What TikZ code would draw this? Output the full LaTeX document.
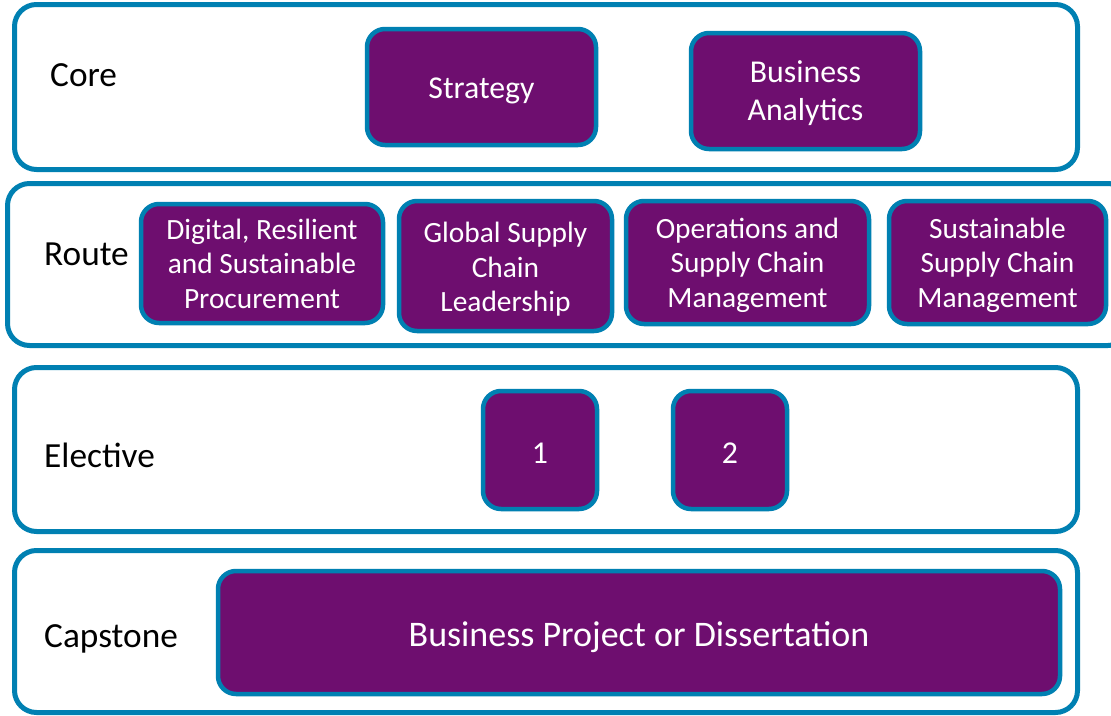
\documentclass[tikz,border=0pt]{standalone}
\usepackage{fontspec}
\setmainfont{Carlito}
\definecolor{bordblue}{RGB}{0,128,178}
\definecolor{modpurple}{RGB}{110,14,111}
\begin{document}
\begin{tikzpicture}[x=1pt,y=-1pt,
  band/.style={draw=bordblue,line width=5pt,rounded corners=22pt,fill=white},
  modbox/.style={draw=bordblue,line width=4.5pt,rounded corners=18pt,fill=modpurple,inner sep=0pt},
  txt/.style={text=white,align=center,inner sep=0pt},
  corefont/.style={font=\fontsize{31.8}{38}\selectfont},
  routefont/.style={font=\fontsize{29.4}{34.5}\selectfont},
  capfont/.style={font=\fontsize{36}{42}\selectfont},
  lbl/.style={anchor=west,inner sep=0pt,font=\fontsize{35.3}{42}\selectfont,text=black}]
\useasboundingbox (0,0) rectangle (1111,715);
% bands
\draw[band] (14.5,4.5) rectangle (1077.5,169.5);
\draw[band] (7.5,183.5) rectangle (1130,345.5);
\draw[band] (14.5,367.5) rectangle (1077.5,531.5);
\draw[band] (14.5,550.5) rectangle (1077.5,712.5);
% labels
\node[lbl] (lcore) at (50,75) {Core};
\node[lbl] (lroute) at (44,254) {Route};
\node[lbl] (lelective) at (44,455) {Elective};
\node[lbl] (lcapstone) at (44,639) {Capstone};
% core
\node[modbox,minimum width=229pt,minimum height=116pt] (strategy) at (481.5,87) {};
\node[txt,corefont] (strategyt) at ([yshift=-4pt]strategy.center) {Strategy};
\node[modbox,minimum width=229pt,minimum height=116pt] (ba) at (805.5,91) {};
\node[txt,corefont] (bat) at ([yshift=-2pt]ba.center) {Business\\Analytics};
% route
\node[modbox,minimum width=242pt,minimum height=119pt] (digital) at (262,263.5) {};
\node[txt,routefont] (digitalt) at (digital.center) {Digital, Resilient\\and Sustainable\\Procurement};
\node[modbox,minimum width=213pt,minimum height=130pt] (global) at (505.5,266) {};
\node[txt,routefont] (globalt) at ([yshift=-3.5pt]global.center) {Global Supply\\Chain\\Leadership};
\node[modbox,minimum width=243pt,minimum height=123pt] (ops) at (747.5,262.5) {};
\node[txt,routefont] (opst) at ([yshift=-2.5pt]ops.center) {Operations and\\Supply Chain\\Management};
\node[modbox,minimum width=217pt,minimum height=123pt] (sust) at (997.5,262.5) {};
\node[txt,routefont] (sustt) at ([yshift=-2.5pt]sust.center) {Sustainable\\Supply Chain\\Management};
% elective
\node[modbox,minimum width=114pt,minimum height=118pt] (e1) at (540,450) {};
\node[txt,corefont] (e1t) at ([yshift=-3pt]e1.center) {1};
\node[modbox,minimum width=114pt,minimum height=118pt] (e2) at (730,450) {};
\node[txt,corefont] (e2t) at ([yshift=-3pt]e2.center) {2};
% capstone
\node[modbox,minimum width=842pt,minimum height=123pt] (cap) at (639,632.5) {};
\node[txt,capfont] (capt) at ([yshift=-4.5pt]cap.center) {Business Project or Dissertation};
\end{tikzpicture}
\end{document}
